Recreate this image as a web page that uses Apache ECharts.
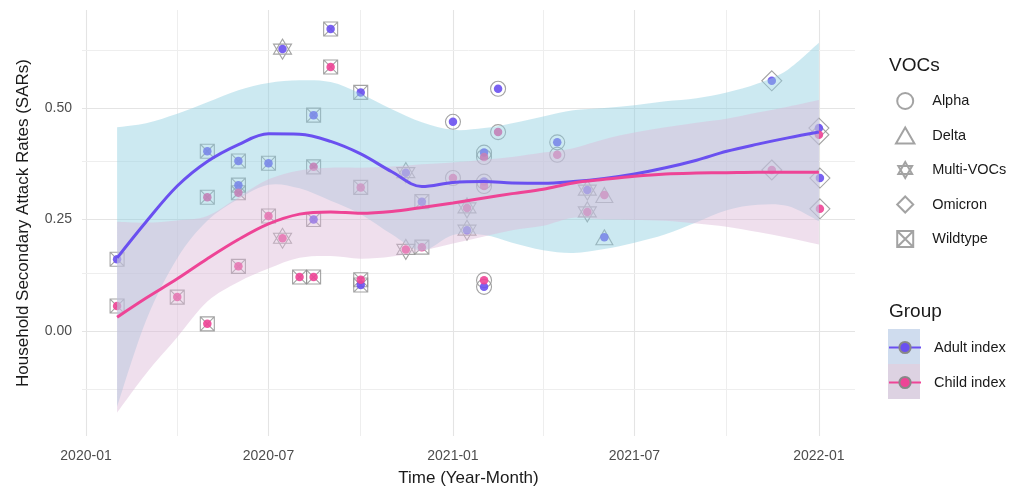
<!DOCTYPE html>
<html><head><meta charset="utf-8">
<script src="https://cdn.jsdelivr.net/npm/echarts@6/dist/echarts.min.js"></script>
<style>html,body{margin:0;padding:0;background:#fff}#c{width:1023px;height:493px}</style>
</head><body><div id="c"></div>
<script>
// ---- axis ticks ----
const xTickLabels = ['2020-01-01','2020-07-01','2021-01-01','2021-07-01','2022-01-01'];
const xMinorTicks = ['2020-04-01','2020-10-01','2021-04-01','2021-10-01'];
const yTickLabels = [0, 0.25, 0.5];
const yMinorTicks = [-0.125, 0.125, 0.375, 0.625];

// ---- VOC categories ----
const vocNames = ['Alpha','Delta','Multi-VOCs','Omicron','Wildtype'];

// ---- Adult index observations ----
const adultDates = ['2020-02-01','2020-05-01','2020-06-01','2020-06-01','2020-07-01','2020-07-15','2020-08-15','2020-08-15','2020-09-01','2020-10-01','2020-10-01','2020-11-15','2020-12-01','2021-01-01','2021-01-15','2021-02-01','2021-02-01','2021-02-01','2021-02-15','2021-04-15','2021-05-15','2021-06-01','2021-11-15','2022-01-01','2022-01-02'];
const adultValues = [0.161,0.403,0.381,0.327,0.376,0.632,0.484,0.250,0.677,0.535,0.103,0.355,0.290,0.469,0.226,0.400,0.335,0.099,0.543,0.423,0.316,0.210,0.561,0.455,0.343];
const adultVOCs = ['Wildtype','Wildtype','Wildtype','Wildtype','Wildtype','Multi-VOCs','Wildtype','Wildtype','Wildtype','Wildtype','Wildtype','Multi-VOCs','Wildtype','Alpha','Multi-VOCs','Alpha','Alpha','Alpha','Alpha','Alpha','Multi-VOCs','Delta','Omicron','Omicron','Omicron'];

// ---- Child index observations ----
const childDates = ['2020-02-01','2020-04-01','2020-05-01','2020-05-01','2020-06-01','2020-06-01','2020-07-01','2020-07-15','2020-08-01','2020-08-15','2020-08-15','2020-09-01','2020-10-01','2020-10-01','2020-11-15','2020-12-01','2021-01-01','2021-01-15','2021-02-01','2021-02-01','2021-02-01','2021-02-15','2021-04-15','2021-05-15','2021-06-01','2021-11-15','2022-01-01','2022-01-02'];
const childValues = [0.056,0.076,0.300,0.016,0.310,0.145,0.258,0.208,0.121,0.368,0.121,0.592,0.322,0.115,0.183,0.188,0.343,0.276,0.390,0.325,0.114,0.446,0.395,0.267,0.305,0.361,0.440,0.274];
const childVOCs = ['Wildtype','Wildtype','Wildtype','Wildtype','Wildtype','Wildtype','Wildtype','Multi-VOCs','Wildtype','Wildtype','Wildtype','Wildtype','Wildtype','Wildtype','Multi-VOCs','Wildtype','Alpha','Multi-VOCs','Alpha','Alpha','Alpha','Alpha','Alpha','Multi-VOCs','Delta','Omicron','Omicron','Omicron'];

// ---- smooth fits and confidence bands ----
const fitDates = ['2020-02-01','2020-03-01','2020-04-01','2020-05-01','2020-06-01','2020-07-01','2020-08-01','2020-09-01','2020-10-01','2020-11-01','2020-12-01','2021-01-01','2021-02-01','2021-03-01','2021-04-01','2021-05-01','2021-06-01','2021-07-01','2021-08-01','2021-09-01','2021-10-01','2021-11-01','2021-12-01','2022-01-01'];
const adultFit   = [0.164,0.245,0.325,0.380,0.418,0.442,0.441,0.425,0.397,0.357,0.324,0.333,0.335,0.332,0.331,0.335,0.342,0.352,0.366,0.383,0.403,0.419,0.433,0.446];
const adultUpper = [0.457,0.466,0.487,0.513,0.540,0.556,0.562,0.558,0.532,0.497,0.468,0.451,0.455,0.466,0.481,0.495,0.500,0.506,0.515,0.522,0.535,0.555,0.586,0.646];
const adultLower = [-0.170,0.024,0.163,0.247,0.296,0.328,0.320,0.292,0.262,0.217,0.180,0.215,0.215,0.198,0.181,0.175,0.184,0.198,0.217,0.244,0.271,0.283,0.280,0.246];
const childFit   = [0.031,0.074,0.117,0.162,0.205,0.240,0.262,0.267,0.264,0.268,0.277,0.287,0.298,0.308,0.318,0.332,0.340,0.347,0.352,0.354,0.355,0.356,0.356,0.356];
const childUpper = [0.245,0.243,0.248,0.258,0.300,0.340,0.360,0.366,0.366,0.369,0.374,0.378,0.384,0.390,0.400,0.410,0.430,0.445,0.457,0.467,0.476,0.490,0.503,0.518];
const childLower = [-0.183,-0.095,-0.014,0.066,0.110,0.140,0.164,0.168,0.162,0.167,0.180,0.196,0.212,0.226,0.236,0.254,0.250,0.249,0.247,0.241,0.234,0.222,0.209,0.194];

// ---- helpers ----
const P = s => { const a = s.split('-').map(Number); return new Date(a[0], a[1]-1, a[2]||1).getTime(); };
const FONT = 'Liberation Sans, Arial, Helvetica, sans-serif';
const BLUE = '#6a50f0', PINK = '#ee4496';
const OUTLINE = '#8c8c8c';
const vocSymbol = {
  'Alpha': 'circle',
  'Delta': 'path://M0,-11L9.5,5.5L-9.5,5.5Z',
  'Multi-VOCs': 'path://M0,-11L9.5,5.5L-9.5,5.5Z M0,11L9.5,-5.5L-9.5,-5.5Z',
  'Omicron': 'path://M0,-10L10,0L0,10L-10,0Z',
  'Wildtype': 'path://M0,0L10,0L10,10L0,10Z M0,0L10,10 M10,0L0,10'
};
const vocSize = {'Alpha':15,'Delta':[17,15],'Multi-VOCs':[18,20],'Omicron':20,'Wildtype':14};

const series = [];

// gridlines (drawn through the axes' scales)
const gridLines = [];
xTickLabels.forEach(s => gridLines.push({xAxis: P(s), lineStyle:{color:'#e4e4e4', width:1.1, type:'solid'}}));
xMinorTicks.forEach(s => gridLines.push({xAxis: P(s), lineStyle:{color:'#eeeeee', width:1, type:'solid'}}));
yTickLabels.forEach(v => gridLines.push({yAxis: v, lineStyle:{color:'#e4e4e4', width:1.1, type:'solid'}}));
yMinorTicks.forEach(v => gridLines.push({yAxis: v, lineStyle:{color:'#eeeeee', width:1, type:'solid'}}));
series.push({
  type:'line', name:'_grid', data: fitDates.map((d,i)=>[P(d), adultFit[i]]),
  lineStyle:{opacity:0}, symbol:'none', silent:true, z:0, legendHoverLink:false,
  markLine:{silent:true, z:0, symbol:['none','none'], label:{show:false}, data: gridLines, animation:false}
});

// VOC outline shapes
vocNames.forEach(v => {
  const data = [];
  adultDates.forEach((d,i)=>{ if (adultVOCs[i]===v) data.push([P(d), adultValues[i]]); });
  childDates.forEach((d,i)=>{ if (childVOCs[i]===v) data.push([P(d), childValues[i]]); });
  series.push({
    type:'scatter', name:v, data, symbol: vocSymbol[v], symbolSize: vocSize[v], z:2,
    itemStyle:{color:'rgba(255,255,255,0)', borderColor: OUTLINE, borderWidth:1.1}
  });
});

// colored points
series.push({type:'scatter', name:'Adult points', z:3, symbol:'circle', symbolSize:8.5,
  data: adultDates.map((d,i)=>[P(d), adultValues[i]]), itemStyle:{color: BLUE, opacity:0.9}});
series.push({type:'scatter', name:'Child points', z:3, symbol:'circle', symbolSize:8.5,
  data: childDates.map((d,i)=>[P(d), childValues[i]]), itemStyle:{color: PINK, opacity:0.9}});

// confidence ribbons: smooth closed path through the band's points, positioned by the axes
function curveCmds(pts) {
  let s = '';
  for (let i = 0; i < pts.length - 1; i++) {
    const p0 = pts[i-1] || pts[i], p1 = pts[i], p2 = pts[i+1], p3 = pts[i+2] || pts[i+1];
    const c1x = p1[0] + (p2[0]-p0[0])/6, c1y = p1[1] + (p2[1]-p0[1])/6;
    const c2x = p2[0] - (p3[0]-p1[0])/6, c2y = p2[1] - (p3[1]-p1[1])/6;
    s += 'C' + c1x.toFixed(2) + ',' + c1y.toFixed(2) + ' ' + c2x.toFixed(2) + ',' + c2y.toFixed(2) + ' ' + p2[0].toFixed(2) + ',' + p2[1].toFixed(2);
  }
  return s;
}
function ribbon(id, lower, upper, color, opacity) {
  series.push({
    type:'custom', name:id, z:4, silent:true, clip:true,
    data: fitDates.map((d,i)=>[P(d), lower[i], upper[i]]),
    encode:{x:0, y:[1,2]},
    renderItem: (params, api) => {
      if (params.dataIndex !== 0) return null;
      const up = fitDates.map((d,i)=>api.coord([P(d), upper[i]]));
      const lo = fitDates.map((d,i)=>api.coord([P(d), lower[i]])).reverse();
      const path = 'M' + up[0][0].toFixed(2) + ',' + up[0][1].toFixed(2) + curveCmds(up) +
                   'L' + lo[0][0].toFixed(2) + ',' + lo[0][1].toFixed(2) + curveCmds(lo) + 'Z';
      return {type:'path', shape:{pathData: path}, style:{fill: color, opacity: opacity, stroke: null}};
    }
  });
}
ribbon('adultCI', adultLower, adultUpper, '#8fcfe0', 0.45);
ribbon('childCI', childLower, childUpper, '#dcb8d6', 0.45);

// fitted lines
series.push({type:'line', name:'Adult index', smooth:0.35, symbol:'circle', symbolSize:10, showSymbol:false, z:6,
  data: fitDates.map((d,i)=>[P(d), adultFit[i]]), lineStyle:{color: BLUE, width:3}, itemStyle:{color: BLUE, borderColor:'#888', borderWidth:1}});
series.push({type:'line', name:'Child index', smooth:0.35, symbol:'circle', symbolSize:10, showSymbol:false, z:6,
  data: fitDates.map((d,i)=>[P(d), childFit[i]]), lineStyle:{color: PINK, width:3}, itemStyle:{color: PINK, borderColor:'#888', borderWidth:1}});

const fmtMonth = v => { const d = new Date(v); return d.getFullYear() + '-' + String(d.getMonth()+1).padStart(2,'0'); };

const option = {
  animation:false,
  backgroundColor:'#ffffff',
  textStyle:{fontFamily: FONT},
  grid:{left:82, right:168, top:10, bottom:57, containLabel:false},
  title:[
    {text:'VOCs', left:884, top:51, textStyle:{fontSize:19, fontWeight:'normal', color:'#1a1a1a', fontFamily:FONT}},
    {text:'Group', left:884, top:297, textStyle:{fontSize:19, fontWeight:'normal', color:'#1a1a1a', fontFamily:FONT}}
  ],
  legend:[
    {data: vocNames, orient:'vertical', left:890, top:87, itemWidth:44, itemHeight:16, itemGap:16.5,
     selectedMode:false, symbolKeepAspect:true,
     textStyle:{fontSize:14.5, color:'#1a1a1a', fontFamily:FONT}},
    {data:['Adult index','Child index'], orient:'vertical', left:883, top:335, itemWidth:32, itemHeight:14, itemGap:20,
     selectedMode:false, z:10,
     textStyle:{fontSize:14.5, color:'#1a1a1a', fontFamily:FONT, padding:[0,0,0,8]}}
  ],
  graphic:[
    {type:'rect', left:888, top:329, z:0, shape:{width:32, height:35}, style:{fill:'#cfdcee'}},
    {type:'rect', left:888, top:364, z:0, shape:{width:32, height:35}, style:{fill:'#ddd2e2'}}
  ],
  xAxis:{
    type:'value', min: P('2019-12-28'), max: P('2022-02-06'),
    axisLine:{show:false}, axisTick:{show:false}, splitLine:{show:false},
    axisLabel:{customValues: xTickLabels.map(P), formatter: fmtMonth, fontSize:14, color:'#4d4d4d', margin:13, fontFamily:FONT, hideOverlap:false},
    name:'Time (Year-Month)', nameLocation:'middle', nameGap:34,
    nameTextStyle:{fontSize:17, color:'#1a1a1a', fontFamily:FONT}
  },
  yAxis:{
    type:'value', min:-0.2354, max:0.7197,
    axisLine:{show:false}, axisTick:{show:false}, splitLine:{show:false},
    axisLabel:{customValues: yTickLabels, formatter: v => v.toFixed(2), fontSize:14, color:'#4d4d4d', margin:10, fontFamily:FONT},
    name:'Household Secondary Attack Rates (SARs)', nameLocation:'middle', nameRotate:90, nameGap:50,
    nameTextStyle:{fontSize:17, color:'#1a1a1a', fontFamily:FONT}
  },
  series
};
const chart = echarts.init(document.getElementById('c'), null, {renderer:'canvas'});
chart.setOption(option);
</script>
</body></html>
